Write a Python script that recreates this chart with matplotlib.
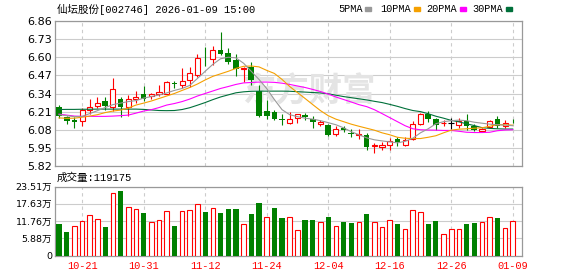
import matplotlib

matplotlib.use("Agg")
import matplotlib.pyplot as plt
from matplotlib.patches import Rectangle

plt.rcParams["font.family"] = ["DejaVu Sans", "Noto Sans CJK SC"]

# ── data ────────────────────────────────────────────────────────────────
title = "仙坛股份[002746] 2026-01-09 15:00"
vol_title = "成交量:119175"

opens = [6.244, 6.169, 6.147, 6.145, 6.224, 6.248, 6.284, 6.240, 6.297, 6.244,
         6.297, 6.340, 6.324, 6.340, 6.340, 6.418, 6.401, 6.440, 6.470, 6.598,
         6.590, 6.655, 6.627, 6.580, 6.515, 6.530, 6.356, 6.217, 6.208, 6.155,
         6.132, 6.166, 6.188, 6.157, 6.122, 6.116, 6.049, 6.092, 6.060, 6.044,
         6.044, 5.965, 5.955, 5.972, 6.013, 5.973, 6.015, 6.122, 6.195, 6.157,
         6.125, 6.128, 6.116, 6.140, 6.105, 6.073, 6.100, 6.160, 6.110, 6.143]
highs = [6.260, 6.181, 6.172, 6.237, 6.304, 6.316, 6.316, 6.448, 6.316, 6.328,
         6.357, 6.393, 6.345, 6.400, 6.430, 6.430, 6.525, 6.530, 6.620, 6.670,
         6.680, 6.784, 6.665, 6.625, 6.530, 6.565, 6.400, 6.290, 6.220, 6.193,
         6.205, 6.193, 6.200, 6.176, 6.152, 6.120, 6.104, 6.108, 6.085, 6.085,
         6.056, 5.984, 5.995, 6.024, 6.030, 6.030, 6.140, 6.200, 6.212, 6.166,
         6.150, 6.165, 6.165, 6.190, 6.120, 6.092, 6.150, 6.176, 6.148, 6.155]
lows = [6.165, 6.121, 6.092, 6.109, 6.193, 6.237, 6.224, 6.215, 6.172, 6.176,
        6.273, 6.284, 6.300, 6.320, 6.333, 6.380, 6.380, 6.390, 6.460, 6.540,
        6.545, 6.615, 6.555, 6.465, 6.420, 6.400, 6.170, 6.160, 6.150, 6.116,
        6.120, 6.130, 6.147, 6.092, 6.104, 6.032, 6.032, 6.063, 6.030, 6.013,
        5.935, 5.914, 5.935, 5.935, 5.960, 5.965, 6.010, 6.116, 6.133, 6.080,
        6.110, 6.085, 6.095, 6.080, 6.068, 6.068, 6.092, 6.090, 6.090, 6.125]
closes = [6.176, 6.140, 6.138, 6.224, 6.241, 6.273, 6.248, 6.369, 6.244, 6.297,
          6.316, 6.304, 6.335, 6.349, 6.420, 6.405, 6.430, 6.490, 6.594, 6.592,
          6.655, 6.625, 6.569, 6.515, 6.525, 6.440, 6.176, 6.180, 6.160, 6.150,
          6.158, 6.193, 6.172, 6.133, 6.133, 6.039, 6.087, 6.080, 6.050, 6.049,
          5.955, 5.972, 5.972, 6.000, 5.990, 6.003, 6.120, 6.195, 6.160, 6.115,
          6.131, 6.128, 6.140, 6.110, 6.075, 6.087, 6.140, 6.105, 6.130, 6.140]

ma5 = [6.188, 6.181, 6.174, 6.176, 6.196, 6.217, 6.239, 6.260, 6.271, 6.282,
       6.289, 6.307, 6.318, 6.329, 6.344, 6.362, 6.376, 6.398, 6.448, 6.499,
       6.549, 6.589, 6.600, 6.596, 6.557, 6.499, 6.441, 6.376, 6.297, 6.224,
       6.188, 6.174, 6.163, 6.156, 6.145, 6.131, 6.116, 6.094, 6.066, 6.044,
       6.022, 6.008, 6.000, 5.993, 5.986, 5.997, 6.019, 6.058, 6.087, 6.123,
       6.138, 6.145, 6.149, 6.145, 6.134, 6.127, 6.120, 6.116, 6.113, 6.109]
ma10 = [6.165, 6.162, 6.163, 6.170, 6.178, 6.188, 6.203, 6.214, 6.221, 6.235,
        6.257, 6.271, 6.286, 6.304, 6.322, 6.340, 6.362, 6.383, 6.408, 6.437,
        6.463, 6.481, 6.499, 6.520, 6.535, 6.537, 6.531, 6.506, 6.484, 6.441,
        6.390, 6.347, 6.304, 6.260, 6.217, 6.181, 6.156, 6.138, 6.120, 6.105,
        6.091, 6.077, 6.058, 6.044, 6.026, 6.019, 6.017, 6.017, 6.026, 6.037,
        6.058, 6.077, 6.084, 6.087, 6.091, 6.094, 6.105, 6.116, 6.116, 6.113]
ma20 = [6.192, 6.185, 6.178, 6.176, 6.176, 6.176, 6.176, 6.178, 6.181, 6.185,
        6.199, 6.214, 6.224, 6.239, 6.257, 6.268, 6.282, 6.300, 6.322, 6.340,
        6.358, 6.376, 6.390, 6.405, 6.416, 6.419, 6.422, 6.422, 6.420, 6.414,
        6.405, 6.394, 6.383, 6.369, 6.354, 6.336, 6.315, 6.297, 6.279, 6.260,
        6.246, 6.224, 6.196, 6.167, 6.138, 6.109, 6.087, 6.080, 6.078, 6.077,
        6.075, 6.075, 6.069, 6.062, 6.060, 6.060, 6.062, 6.073, 6.078, 6.080]
ma30 = [6.225, 6.226, 6.226, 6.227, 6.227, 6.228, 6.228, 6.228, 6.228, 6.228,
        6.228, 6.226, 6.222, 6.218, 6.217, 6.218, 6.225, 6.238, 6.256, 6.275,
        6.296, 6.315, 6.330, 6.345, 6.352, 6.356, 6.357, 6.357, 6.357, 6.357,
        6.356, 6.353, 6.350, 6.347, 6.344, 6.338, 6.328, 6.318, 6.310, 6.302,
        6.294, 6.284, 6.275, 6.262, 6.248, 6.232, 6.218, 6.210, 6.195, 6.177,
        6.163, 6.147, 6.137, 6.122, 6.110, 6.095, 6.090, 6.087, 6.085, 6.085]

# volume in 万 shares; 1 = red (rise) bar, 0 = green bar
volumes = [10.67, 8.03, 9.98, 11.70, 13.76, 12.27, 9.75, 21.45, 22.14, 16.40,
           15.83, 14.57, 11.47, 12.04, 15.14, 9.98, 15.14, 15.48, 17.55, 14.80,
           16.06, 14.57, 15.83, 15.83, 10.90, 14.11, 18.01, 12.96, 16.06, 12.62,
           12.96, 8.83, 12.04, 12.04, 11.36, 12.96, 10.21, 11.36, 11.01, 11.36,
           14.11, 11.58, 9.86, 11.93, 10.67, 9.18, 15.37, 14.68, 10.67, 11.70,
           7.23, 9.18, 9.18, 10.67, 11.01, 11.36, 12.96, 12.73, 9.52, 11.92]
vol_rise = [0, 0, 1, 1, 1, 1, 0, 1, 0, 1, 1, 0, 1, 1, 1, 0, 1, 1, 1, 0,
            1, 0, 0, 0, 1, 0, 0, 1, 0, 0, 1, 1, 0, 0, 1, 0, 1, 0, 0, 1,
            0, 1, 1, 1, 0, 1, 1, 1, 0, 0, 1, 1, 1, 0, 0, 1, 1, 0, 1, 1]

price_ticks = [5.82, 5.95, 6.08, 6.21, 6.34, 6.47, 6.60, 6.73, 6.86]
vol_ticks = [0, 5.88, 11.76, 17.63, 23.51]
vol_tick_labels = ["0", "5.88万", "11.76万", "17.63万", "23.51万"]
date_pos = [3, 11, 19, 27, 35, 43, 51, 59]
date_labels = ["10-21", "10-31", "11-12", "11-24", "12-04", "12-16", "12-26", "01-09"]

ma_names = ["5PMA", "10PMA", "20PMA", "30PMA"]

# ── styling ─────────────────────────────────────────────────────────────
RED = "#FF0000"
GREEN = "#008000"
MA_COLORS = ["#999999", "#F5A000", "#FF00FF", "#00703A"]
GRID = "#CCCCCC"
FRAME = "#999999"
MONO = ["Liberation Mono", "Noto Sans CJK SC"]

W, H = 578, 276
fig = plt.figure(figsize=(W / 100, H / 100), dpi=100)


def px_axes(left, top, right, bottom):
    return fig.add_axes([left / W, 1 - bottom / H, (right - left) / W, (bottom - top) / H])


def style_axes(ax):
    for s in ax.spines.values():
        s.set_color(FRAME)
        s.set_linewidth(0.9)
    ax.tick_params(length=0, pad=2)
    ax.set_xlim(-0.52, 60.2)
    ax.set_xticks(date_pos)
    ax.grid(True, axis="y", color=GRID, linewidth=0.8, linestyle="-")
    ax.grid(True, axis="x", color=GRID, linewidth=0.8, linestyle=(0, (3, 3)))
    ax.set_axisbelow(True)


# ── price panel ─────────────────────────────────────────────────────────
ax = px_axes(55, 21, 522, 166)
style_axes(ax)
ax.set_ylim(price_ticks[0], price_ticks[-1])
ax.set_yticks(price_ticks)
ax.set_yticklabels([f"{t:.2f}" for t in price_ticks], fontsize=8)
ax.set_xticklabels([])

# faint site watermark behind the candles
ax.text(32.5, 6.35, "东方财富", fontsize=24, fontweight="bold", color="#E4E4E4",
        ha="center", va="center", zorder=1, family=["Noto Sans CJK SC"])

n = len(closes)
for i in range(n):
    o, h, l, c = opens[i], highs[i], lows[i], closes[i]
    if c > o:
        ax.vlines(i, c, h, color=RED, linewidth=0.8, zorder=3)
        ax.vlines(i, l, o, color=RED, linewidth=0.8, zorder=3)
        ax.bar(i, c - o, bottom=o, width=0.66, facecolor="white",
               edgecolor=RED, linewidth=0.8, zorder=4)
    elif c < o:
        ax.vlines(i, l, h, color=GREEN, linewidth=0.8, zorder=3)
        ax.bar(i, o - c, bottom=c, width=0.74, color=GREEN, linewidth=0, zorder=4)
    else:
        ax.vlines(i, l, h, color="black", linewidth=0.8, zorder=3)
        ax.hlines(o, i - 0.37, i + 0.37, color="black", linewidth=0.8, zorder=4)

xs = list(range(n))
for vals, col in zip([ma30, ma20, ma10, ma5], MA_COLORS[::-1]):
    ax.plot(xs, vals, color=col, linewidth=0.8, zorder=5)

# ── volume panel ────────────────────────────────────────────────────────
axv = px_axes(55, 186.5, 522, 255.5)
style_axes(axv)
axv.set_ylim(0, vol_ticks[-1])
axv.set_yticks(vol_ticks)
axv.set_yticklabels(vol_tick_labels, fontsize=6.8)
axv.set_xticklabels(date_labels, color=RED, fontsize=7.4, family=MONO)
axv.tick_params(axis="x", pad=4)

up_x = [i for i in range(n) if vol_rise[i]]
dn_x = [i for i in range(n) if not vol_rise[i]]
axv.bar(up_x, [volumes[i] for i in up_x], width=0.6, facecolor="white",
        edgecolor=RED, linewidth=0.8, zorder=3)
axv.bar(dn_x, [volumes[i] for i in dn_x], width=0.68, color=GREEN,
        linewidth=0, zorder=3)

# ── header texts & legend ───────────────────────────────────────────────
fig.text(57 / W, 1 - 9 / H, title, fontsize=7.6, family=MONO, va="center")
fig.text(57 / W, 1 - 177.5 / H, vol_title, fontsize=7.6, family=MONO, va="center")

leg_x = [338, 380, 426, 472]
for x0, name, col in zip(leg_x, ma_names, MA_COLORS):
    fig.text(x0 / W, 1 - 8.5 / H, name, fontsize=7.4, family=MONO, va="center")
    sq_x = x0 + 6.1 * len(name) + 3
    fig.patches.append(Rectangle((sq_x / W, 1 - 10.5 / H), 6 / W, 3.5 / H,
                                 transform=fig.transFigure, color=col))

fig.savefig("out.png", dpi=100)
